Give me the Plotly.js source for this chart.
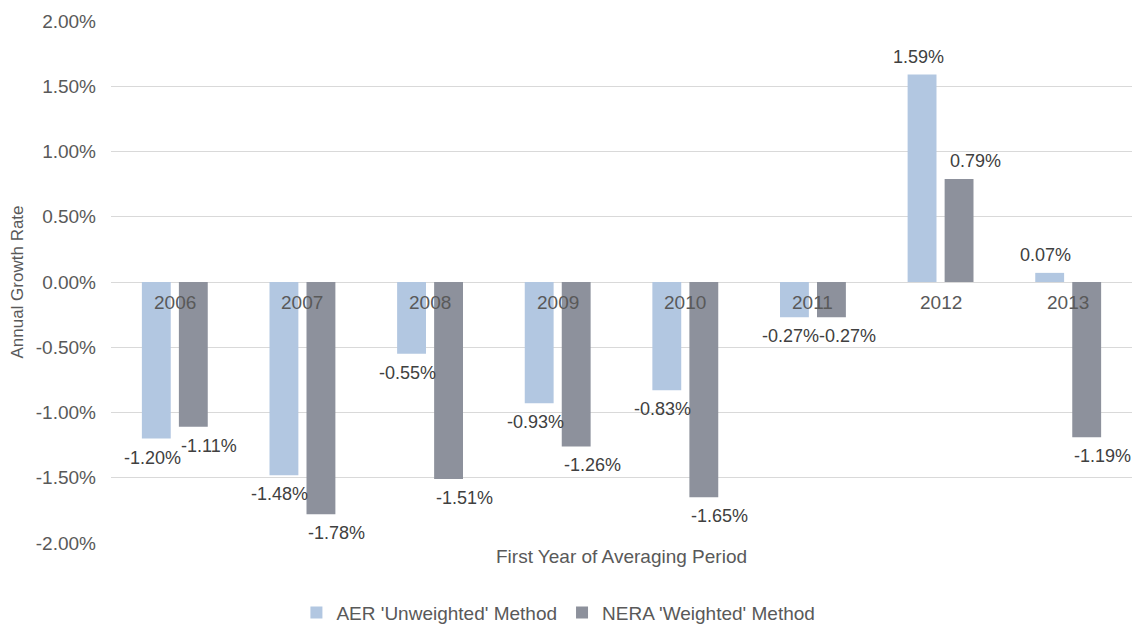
<!DOCTYPE html>
<html>
<head>
<meta charset="utf-8">
<script src="https://cdn.plot.ly/plotly-3.0.1.min.js"></script>
<style>
  html, body { margin: 0; padding: 0; background: #ffffff; }
  #chart { width: 1135px; height: 624px; }
</style>
</head>
<body>
<div id="chart"></div>
<script>
// First year of each averaging period
const years = ['2006', '2007', '2008', '2009', '2010', '2011', '2012', '2013'];

// Annual growth rates (as fractions)
const aerUnweighted = [-0.0120, -0.0148, -0.0055, -0.0093, -0.0083, -0.0027, 0.0159, 0.0007];
const neraWeighted  = [-0.0111, -0.0178, -0.0151, -0.0126, -0.0165, -0.0027, 0.0079, -0.0119];

const seriesNames = ["AER 'Unweighted' Method", "NERA 'Weighted' Method"];

// Value-axis ticks
const yTicks = [-0.02, -0.015, -0.01, -0.005, 0, 0.005, 0.01, 0.015, 0.02];
const yTickLabels = yTicks.map(v => (v * 100).toFixed(2) + '%');

const FONT = 'Arial, "Liberation Sans", sans-serif';
const AXIS_GREY = '#595959';
const LABEL_GREY = '#404040';
const COLORS = ['#B2C7E1', '#8D919C'];

// Bar geometry within each category (pixels from category centre)
const BAR_OFFSET = 18.5;
// Horizontal nudge of each series' value labels
const LABEL_NUDGE = [-4, 16];

const pct = v => (v * 100).toFixed(2) + '%';

function barTrace(name, values, color) {
  return {
    type: 'bar',
    name: name,
    x: years,
    y: values,
    marker: { color: color },
    hoverinfo: 'x+y+name'
  };
}

const seriesValues = [aerUnweighted, neraWeighted];
const traces = seriesValues.map((vals, s) => barTrace(seriesNames[s], vals, COLORS[s]));

// Value labels placed just beyond the end of each bar
const valueLabels = [];
seriesValues.forEach((vals, s) => {
  const side = s === 0 ? -1 : 1;
  vals.forEach((v, i) => {
    valueLabels.push({
      x: i,
      y: v,
      xref: 'x',
      yref: 'y',
      text: pct(v),
      showarrow: false,
      xanchor: 'center',
      yanchor: 'middle',
      xshift: side * BAR_OFFSET + LABEL_NUDGE[s],
      yshift: v >= 0 ? 18 : -19,
      font: { family: FONT, size: 18, color: LABEL_GREY }
    });
  });
});

// Year labels sit along the zero line, over the bars
const yearLabels = years.map((yr, i) => ({
  x: i,
  y: 0,
  xref: 'x',
  yref: 'y',
  text: yr,
  showarrow: false,
  yanchor: 'top',
  yshift: -8,
  font: { family: FONT, size: 19, color: AXIS_GREY }
}));

const layout = {
  width: 1135,
  height: 624,
  margin: { l: 111, r: 3, t: 21, b: 81 },
  paper_bgcolor: '#ffffff',
  plot_bgcolor: '#ffffff',
  font: { family: FONT, size: 19, color: AXIS_GREY },
  barmode: 'group',
  bargap: 0.42,
  bargroupgap: 0.22,
  showlegend: true,
  legend: {
    orientation: 'h',
    xref: 'container',
    yref: 'container',
    x: 0.492,
    xanchor: 'center',
    y: 0.018,
    yanchor: 'middle',
    font: { family: FONT, size: 19, color: AXIS_GREY },
    itemwidth: 30
  },
  xaxis: {
    type: 'category',
    range: [-0.5, years.length - 0.5],
    autorange: false,
    showticklabels: false,
    showgrid: false,
    zeroline: false,
    showline: false,
    ticks: '',
    title: {
      text: 'First Year of Averaging Period',
      font: { family: FONT, size: 19, color: AXIS_GREY },
      standoff: 6
    }
  },
  yaxis: {
    range: [-0.02, 0.02],
    autorange: false,
    tickmode: 'array',
    tickvals: yTicks,
    ticktext: yTickLabels,
    showgrid: true,
    gridcolor: '#D9D9D9',
    gridwidth: 1,
    zeroline: true,
    zerolinecolor: '#D9D9D9',
    zerolinewidth: 1,
    showline: false,
    ticks: '',
    ticklabelstandoff: 14,
    tickfont: { family: FONT, size: 19, color: AXIS_GREY },
    title: {
      text: 'Annual Growth Rate',
      font: { family: FONT, size: 17, color: AXIS_GREY },
      standoff: 7
    }
  },
  annotations: valueLabels.concat(yearLabels)
};

Plotly.newPlot('chart', traces, layout, { displayModeBar: false, staticPlot: true });
</script>
</body>
</html>
